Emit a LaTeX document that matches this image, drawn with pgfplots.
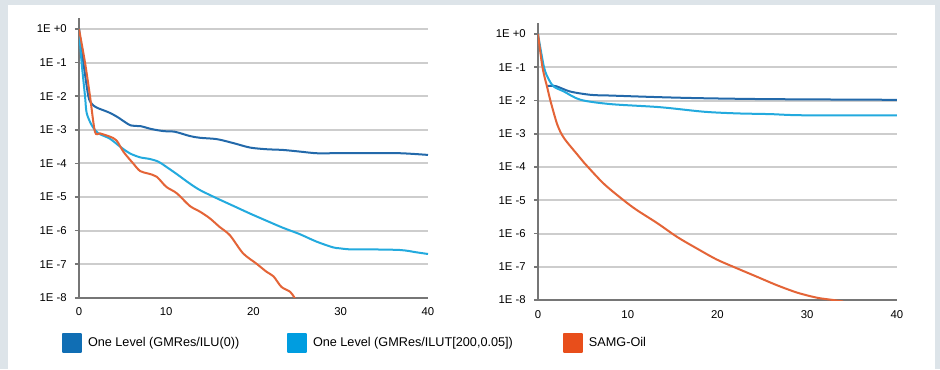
\documentclass[border=0pt]{standalone}
\usepackage{pgfplots}
\pgfplotsset{compat=1.18}
\usepackage{fontspec}
\setmainfont{Liberation Sans}
\definecolor{bg}{RGB}{221,228,233}
\definecolor{gridc}{RGB}{205,205,205}
\definecolor{axc}{RGB}{118,118,118}
\definecolor{dbl}{RGB}{35,105,170}
\definecolor{lbl}{RGB}{35,170,222}
\definecolor{org}{RGB}{228,100,55}
\definecolor{dblL}{RGB}{16,110,180}
\definecolor{lblL}{RGB}{0,157,224}
\definecolor{orgL}{RGB}{232,78,27}
\begin{document}
\begin{tikzpicture}
\fill[bg] (0,0) rectangle (705pt,276.75pt);
\fill[white] (6pt,0) rectangle (701.25pt,273pt);
\begin{axis}[scale only axis, anchor=south west,
    ymode=log, xmin=0, xmax=40, ymin=1e-8,
    axis lines=left, axis line style={draw=axc, line width=1.5pt, -},
    ytick={1e-8,1e-7,1e-6,1e-5,1e-4,1e-3,1e-2,1e-1,1},
    yticklabels={1E -8,1E -7,1E -6,1E -5,1E -4,1E -3,1E -2,1E -1,1E +0},
    xtick={0,10,20,30,40}, xticklabels={0,10,20,30,40},
    yminorticks=false, xminorticks=false,
    ymajorgrids, major grid style={draw=gridc, line width=1.5pt},
    tick align=outside, major tick length=3pt,
    x tick style={draw=none},
    y tick style={draw=axc, line width=1.2pt},
    tick label style={font=\fontsize{8.5}{10}\selectfont, text=black},
    yticklabel style={inner sep=0pt, xshift=-6pt},
    xticklabel style={inner sep=0pt, yshift=-4.5pt},
  at={(59.25pt,53.475pt)}, width=261.75pt, height=209.8pt, ymax=2.125,
  legend columns=3,
  legend style={draw=none, fill=none, inner sep=0pt, outer sep=0pt,
    at={(-0.0487,-0.162)}, anchor=west,
    font=\fontsize{9.5}{11}\selectfont,
    nodes={inner sep=0pt},
    /tikz/every odd column/.style={column sep=4.5pt}},
  legend cell align=left]
\addplot[dbl, smooth, tension=0.5, line width=1.5pt, no markers, line join=round, legend image code/.code={\fill[dblL] (0pt,-6.75pt) rectangle (13.5pt,6.75pt);}] coordinates {
(0,1) (0.5,1e-1) (1.07,1.0e-2) (1.45,6.0e-3) (2.0,4.6e-3) (3.4,3.3e-3) (4.4,2.4e-3)
(5.9,1.35e-3) (7.0,1.29e-3) (8.3,1.05e-3) (9.7,9.1e-4) (11,8.7e-4) (12.7,6.5e-4)
(13.9,5.75e-4) (15.8,5.25e-4) (17.7,4.0e-4) (19.6,2.95e-4) (21.5,2.63e-4) (23.4,2.5e-4)
(25.3,2.24e-4) (27.2,2.0e-4) (29.1,2.0e-4) (32.9,2.0e-4) (36.8,2.0e-4) (40,1.78e-4)};
\addlegendentry{\makebox[149.25pt][l]{One Level (GMRes/ILU(0))}}
\addplot[lbl, smooth, tension=0.5, line width=1.5pt, no markers, line join=round, legend image code/.code={\fill[lblL] (0pt,-6.75pt) rectangle (13.5pt,6.75pt);}] coordinates {
(0,1) (0.3,1e-1) (0.69,1e-2) (0.88,3.16e-3) (1.45,1.38e-3) (2.2,7.9e-4) (3.5,5.5e-4)
(4.7,3.16e-4) (5.8,2.0e-4) (7.0,1.51e-4) (8.1,1.35e-4) (9.1,1.12e-4) (10.0,7.9e-5)
(11.2,4.8e-5) (12.7,2.5e-5) (13.9,1.58e-5) (15.8,9.1e-6) (17.7,5.4e-6) (19.6,3.2e-6)
(21.5,1.95e-6) (23.4,1.2e-6) (25.3,7.8e-7) (27.2,4.7e-7) (29.1,3.16e-7) (29.9,2.95e-7)
(31.0,2.75e-7) (32.9,2.75e-7) (36.8,2.63e-7) (38.7,2.24e-7) (40,2.0e-7)};
\addlegendentry{\makebox[187.5pt][l]{One Level (GMRes/ILUT[200,0.05])}}
\addplot[org, smooth, tension=0.5, line width=1.5pt, no markers, line join=round, legend image code/.code={\fill[orgL] (0pt,-6.75pt) rectangle (13.5pt,6.75pt);}] coordinates {
(0,1) (0.69,1e-1) (1.26,1e-2) (1.83,8.7e-4) (2.4,7.8e-4) (3.5,6.3e-4) (4.3,4.8e-4)
(5.1,2.2e-4) (6.2,1e-4) (7.0,5.9e-5) (7.9,5.0e-5) (8.9,4.0e-5) (10.0,2.0e-5)
(11.2,1.29e-5) (12.7,5.4e-6) (13.9,3.6e-6) (15.0,2.3e-6) (16.1,1.29e-6) (17.3,7.2e-7)
(18.8,2.1e-7) (20.3,1.05e-7) (21.5,5.9e-8) (22.3,4.3e-8) (23.2,2.1e-8) (24.2,1.5e-8)
(24.7,1e-8) (25,8e-9)};
\addlegendentry{SAMG-Oil}
\end{axis}
\begin{axis}[scale only axis, anchor=south west,
    ymode=log, xmin=0, xmax=40, ymin=1e-8,
    axis lines=left, axis line style={draw=axc, line width=1.5pt, -},
    ytick={1e-8,1e-7,1e-6,1e-5,1e-4,1e-3,1e-2,1e-1,1},
    yticklabels={1E -8,1E -7,1E -6,1E -5,1E -4,1E -3,1E -2,1E -1,1E +0},
    xtick={0,10,20,30,40}, xticklabels={0,10,20,30,40},
    yminorticks=false, xminorticks=false,
    ymajorgrids, major grid style={draw=gridc, line width=1.5pt},
    tick align=outside, major tick length=3pt,
    x tick style={draw=none},
    y tick style={draw=axc, line width=1.2pt},
    tick label style={font=\fontsize{8.5}{10}\selectfont, text=black},
    yticklabel style={inner sep=0pt, xshift=-6pt},
    xticklabel style={inner sep=0pt, yshift=-4.5pt},
    at={(403.5pt,51.75pt)}, width=269.25pt, height=207.97pt, ymax=2.19]
\addplot[dbl, smooth, tension=0.5, line width=1.5pt, no markers, line join=round] coordinates {
(1.05,2.75e-2) (2.0,2.7e-2) (3.6,1.86e-2) (5.9,1.48e-2) (8.1,1.41e-2)
(13.6,1.26e-2) (18.5,1.17e-2) (25.9,1.1e-2) (40,1.05e-2)};
\addplot[lbl, smooth, tension=0.5, line width=1.5pt, no markers, line join=round] coordinates {
(0,1) (0.67,1e-1) (1.22,4.2e-2) (1.78,2.6e-2) (2.9,1.86e-2) (4.75,1.05e-2) (8.1,7.8e-3)
(13.6,6.3e-3) (18.5,4.6e-3) (22.2,4.1e-3) (25.9,3.9e-3) (29.6,3.6e-3) (40,3.6e-3)};
\addplot[org, smooth, tension=0.5, line width=1.5pt, no markers, line join=round] coordinates {
(0,1) (0.5,1e-1) (1.05,2.34e-2) (1.41,9.3e-3) (2.16,1.86e-3) (2.9,7.4e-4) (4.4,2.34e-4)
(5.1,1.38e-4) (7.3,3.2e-5) (9.5,1.02e-5) (11,5.1e-6) (13.3,2.04e-6) (15.5,7.9e-7)
(17.7,3.55e-7) (19.9,1.66e-7) (22.2,8.9e-8) (24.4,5.0e-8) (26.6,2.8e-8) (28.9,1.66e-8)
(31.1,1.17e-8) (32.9,1.0e-8) (34,9e-9)};
\end{axis}
\end{tikzpicture}
\end{document}
